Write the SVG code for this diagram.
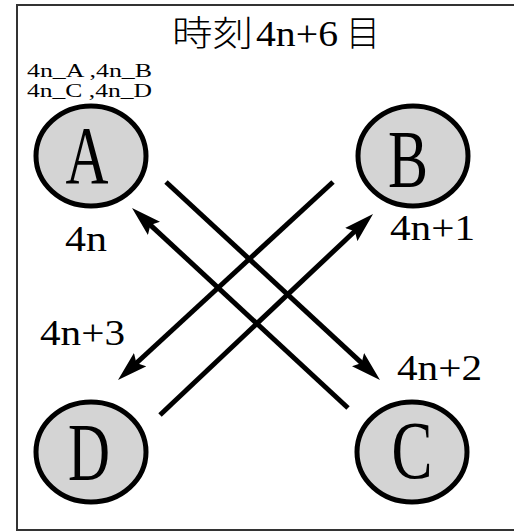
<svg xmlns="http://www.w3.org/2000/svg" width="514" height="532" viewBox="0 0 514 532">
<style>
.node{fill:#d4d4d4;stroke:#000;stroke-width:5}
.ltr{font-family:"Liberation Serif",serif;font-size:83px;fill:#000;text-anchor:middle}
.lbl{font-family:"Liberation Serif",serif;font-size:35px;fill:#000}
.sm{font-family:"Liberation Serif",serif;font-size:18px;fill:#000}
.conn{stroke:#000;stroke-width:5;fill:none}
.cjk{font-family:"Noto Sans CJK JP",sans-serif;font-size:35px;font-weight:300}
</style>
<defs>
<marker id="ah" viewBox="0 0 30 20" refX="10" refY="10" markerWidth="30" markerHeight="20" markerUnits="userSpaceOnUse" orient="auto">
<path d="M0,1 L30,10 L0,19 L5,10 z" fill="#000"/>
</marker>
</defs>
<rect x="0" y="0" width="514" height="532" fill="#fff"/>
<rect x="17" y="5" width="520" height="525" fill="none" stroke="#333" stroke-width="2"/>
<text class="cjk" x="172" y="46" textLength="81" lengthAdjust="spacingAndGlyphs">時刻</text>
<text x="256" y="46" font-family="Liberation Serif, serif" font-size="36" textLength="82" lengthAdjust="spacingAndGlyphs">4n+6</text>
<text class="cjk" x="346" y="46" textLength="34" lengthAdjust="spacingAndGlyphs">目</text>
<text class="sm" x="27" y="77" textLength="125" lengthAdjust="spacingAndGlyphs">4n_A ,4n_B</text>
<text class="sm" x="27" y="97" textLength="125" lengthAdjust="spacingAndGlyphs">4n_C ,4n_D</text>
<g id="A"><ellipse class="node" cx="91" cy="156" rx="55" ry="50"/><text class="ltr" x="87" y="183" textLength="43" lengthAdjust="spacingAndGlyphs">A</text></g>
<g id="B"><ellipse class="node" cx="413" cy="156" rx="55" ry="50"/><text class="ltr" x="408" y="187" textLength="40" lengthAdjust="spacingAndGlyphs">B</text></g>
<g id="D"><ellipse class="node" cx="91" cy="452" rx="55" ry="50"/><text class="ltr" x="89" y="480" textLength="42" lengthAdjust="spacingAndGlyphs">D</text></g>
<g id="C"><ellipse class="node" cx="412" cy="452" rx="55" ry="50"/><text class="ltr" x="412" y="478" textLength="41" lengthAdjust="spacingAndGlyphs">C</text></g>
<g id="connectors">
<line class="conn" x1="348" y1="408" x2="146.7" y2="221.6" marker-end="url(#ah)"/>
<line class="conn" x1="166" y1="182" x2="365.3" y2="366.4" marker-end="url(#ah)"/>
<line class="conn" x1="333" y1="182" x2="132.7" y2="366.5" marker-end="url(#ah)"/>
<line class="conn" x1="160" y1="415" x2="358.5" y2="227.7" marker-end="url(#ah)"/>
</g>
<text class="lbl" x="65" y="251" textLength="42" lengthAdjust="spacingAndGlyphs">4n</text>
<text class="lbl" x="390" y="240" textLength="85" lengthAdjust="spacingAndGlyphs">4n+1</text>
<text class="lbl" x="40" y="345" textLength="85" lengthAdjust="spacingAndGlyphs">4n+3</text>
<text class="lbl" x="397" y="380" textLength="85" lengthAdjust="spacingAndGlyphs">4n+2</text>
</svg>
